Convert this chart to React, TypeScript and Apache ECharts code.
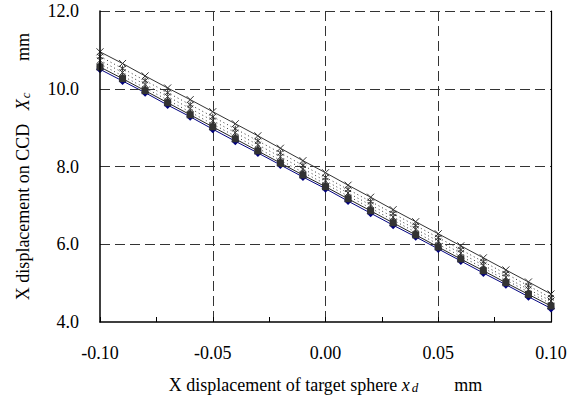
import React, { useEffect, useRef } from "react";
import * as echarts from "echarts";

const xValues = [-0.1, -0.09, -0.08, -0.07, -0.06, -0.05, -0.04, -0.03, -0.02, -0.01, 0, 0.01, 0.02, 0.03, 0.04, 0.05, 0.06, 0.07, 0.08, 0.09, 0.1];

const seriesDiamond = [10.5, 10.2, 9.9, 9.58, 9.28, 8.96, 8.65, 8.35, 8.04, 7.73, 7.43, 7.11, 6.8, 6.49, 6.19, 5.88, 5.57, 5.26, 4.96, 4.65, 4.35];
const seriesSquare = [10.56, 10.26, 9.95, 9.64, 9.33, 9.02, 8.71, 8.4, 8.09, 7.78, 7.48, 7.17, 6.86, 6.55, 6.24, 5.93, 5.62, 5.32, 5.01, 4.71, 4.41];
const seriesTriangle = [10.64, 10.33, 10.02, 9.71, 9.4, 9.09, 8.78, 8.47, 8.16, 7.85, 7.55, 7.24, 6.93, 6.62, 6.31, 6.0, 5.69, 5.39, 5.08, 4.77, 4.47];
const seriesCross = [10.73, 10.42, 10.11, 9.8, 9.49, 9.18, 8.87, 8.56, 8.25, 7.94, 7.63, 7.32, 7.01, 6.7, 6.39, 6.08, 5.77, 5.46, 5.15, 4.84, 4.54];
const seriesStar = [10.83, 10.52, 10.21, 9.9, 9.59, 9.28, 8.97, 8.66, 8.35, 8.03, 7.72, 7.41, 7.1, 6.79, 6.48, 6.17, 5.86, 5.55, 5.24, 4.93, 4.62];
const seriesTop = [10.95, 10.65, 10.33, 10.02, 9.72, 9.41, 9.1, 8.79, 8.47, 8.15, 7.84, 7.52, 7.21, 6.89, 6.58, 6.27, 5.96, 5.65, 5.34, 5.03, 4.72];

const xTicks = [-0.1, -0.05, 0, 0.05, 0.1];
const yTicks = [4, 6, 8, 10, 12];

const FONT = "'Liberation Serif', 'Times New Roman', serif";
const crossPath = "path://M0,0L10,10M10,0L0,10";
const starPath = "path://M0,0L10,10M10,0L0,10M5,-1L5,11";

function pairs(ys: number[]) {
  return xValues.map((x, i) => [x, ys[i]]);
}

export default function App() {
  const ref = useRef<HTMLDivElement>(null);
  useEffect(() => {
    document.body.style.margin = "0";
    if (!ref.current) return;
    const chart = echarts.init(ref.current, undefined, { renderer: "svg" });
    const dash = { type: [10, 5] as any, color: "#333", width: 1 };
    const xMin = xTicks[0];
    const xMax = xTicks[xTicks.length - 1];
    chart.setOption({
      animation: false,
      textStyle: { fontFamily: FONT },
      grid: { left: 100, right: 25, top: 11, bottom: 83, containLabel: false },
      xAxis: [
        {
          type: "value",
          min: xMin,
          max: xMax,
          interval: 0.025,
          axisLine: { show: true, onZero: false, lineStyle: { color: "#000", width: 1.5 } },
          axisTick: { show: true, inside: true, length: 5, lineStyle: { color: "#000", width: 1 } },
          axisLabel: {
            color: "#000",
            fontSize: 18,
            fontFamily: FONT,
            margin: 22,
            formatter: (v: number) => (Math.round(v * 1000) % 50 === 0 ? v.toFixed(2) : ""),
          },
          splitLine: { show: false },
          name: "X displacement of target sphere {i|x}{s|d}        mm",
          nameLocation: "middle",
          nameGap: 53,
          nameTextStyle: {
            color: "#000",
            fontSize: 18,
            fontFamily: FONT,
            rich: {
              i: { fontSize: 18, fontStyle: "italic", fontFamily: FONT, color: "#000" },
              s: { fontSize: 13, fontStyle: "italic", fontFamily: FONT, color: "#000", verticalAlign: "bottom", padding: [6, 0, 0, 2] },
            },
          },
          z: 10,
        },
        {
          type: "value",
          position: "top",
          min: xMin,
          max: xMax,
          interval: 0.05,
          axisLine: { show: false, onZero: false },
          axisTick: { show: false },
          axisLabel: { show: false },
          splitLine: { show: true, showMinLine: false, showMaxLine: false, lineStyle: dash },
        },
      ],
      yAxis: [
        {
          type: "value",
          min: yTicks[0],
          max: yTicks[yTicks.length - 1],
          interval: 2,
          axisLine: { show: true, onZero: false, lineStyle: { color: "#000", width: 1.5 } },
          axisTick: { show: false },
          axisLabel: {
            color: "#000",
            fontSize: 18,
            fontFamily: FONT,
            margin: 21,
            formatter: (v: number) => v.toFixed(1),
          },
          splitLine: { show: true, showMinLine: false, showMaxLine: true, lineStyle: dash },
          name: "X displacement on CCD   {i|X}{s|c}       mm",
          nameLocation: "middle",
          nameGap: 68,
          nameTextStyle: {
            color: "#000",
            fontSize: 18,
            fontFamily: FONT,
            rich: {
              i: { fontSize: 18, fontStyle: "italic", fontFamily: FONT, color: "#000" },
              s: { fontSize: 13, fontStyle: "italic", fontFamily: FONT, color: "#000", verticalAlign: "bottom", padding: [6, 0, 0, 1] },
            },
          },
          z: 10,
        },
        {
          type: "value",
          position: "right",
          min: yTicks[0],
          max: yTicks[yTicks.length - 1],
          interval: 2,
          axisLine: { show: true, onZero: false, lineStyle: { color: "#000", width: 1.2 } },
          axisTick: { show: false },
          axisLabel: { show: false },
          splitLine: { show: false },
        },
      ],
      series: [
        {
          type: "line",
          data: pairs(seriesDiamond),
          symbol: "diamond",
          symbolSize: 8,
          lineStyle: { color: "#00007f", width: 1 },
          itemStyle: { color: "#00007f" },
          z: 2,
        },
        {
          type: "line",
          data: pairs(seriesSquare),
          symbol: "rect",
          symbolSize: 7,
          lineStyle: { color: "#222", width: 1 },
          itemStyle: { color: "#333" },
          z: 3,
        },
        {
          type: "line",
          data: pairs(seriesTriangle),
          symbol: "triangle",
          symbolSize: 7,
          lineStyle: { color: "#333", width: 1, type: [1, 3] as any },
          itemStyle: { color: "#333" },
          z: 4,
        },
        {
          type: "line",
          data: pairs(seriesCross),
          symbol: crossPath,
          symbolSize: 6,
          lineStyle: { color: "#333", width: 1, type: [1, 3] as any },
          itemStyle: { color: "none", borderColor: "#333", borderWidth: 1 },
          z: 5,
        },
        {
          type: "line",
          data: pairs(seriesStar),
          symbol: starPath,
          symbolSize: 6,
          lineStyle: { color: "#333", width: 1, type: [1, 3] as any },
          itemStyle: { color: "none", borderColor: "#333", borderWidth: 1 },
          z: 6,
        },
        {
          type: "line",
          data: pairs(seriesTop),
          symbol: crossPath,
          symbolSize: 7,
          lineStyle: { color: "#333", width: 1 },
          itemStyle: { color: "none", borderColor: "#333", borderWidth: 1 },
          z: 7,
        },
      ],
    });
    return () => chart.dispose();
  }, []);
  return <div ref={ref} style={{ width: 576, height: 405 }} />;
}
